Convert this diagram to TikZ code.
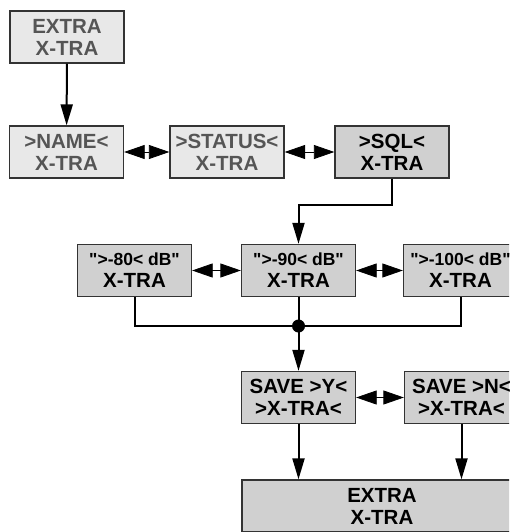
\documentclass[tikz,border=0pt]{standalone}
\usepackage{fontspec}
\setmainfont{Liberation Sans}
\usepackage{tikz}
\usetikzlibrary{arrows.meta}
\usetikzlibrary{positioning,calc}
\usepackage{xcolor}
\definecolor{lightbox}{HTML}{E8E8E8}
\definecolor{darkbox}{HTML}{D0D0D0}
\definecolor{greytext}{HTML}{555555}
\definecolor{boxline}{HTML}{333333}
\newcommand{\dq}{\textquotedbl}

\begin{document}
\begin{tikzpicture}[x=1pt,y=-1pt]
  % Define styles for menu boxes and connectors
  \tikzset{
    menubox/.style={
      draw=boxline,
      line width=1.3pt,
      minimum width=114pt,
      minimum height=52pt,
      inner sep=0pt,
      align=center,
      font=\bfseries\fontsize{20.5}{22}\selectfont
    },
    lightmenu/.style={menubox, fill=lightbox, text=greytext},
    darkmenu/.style={menubox, fill=darkbox, text=black},
    flow/.style={
      draw=black,
      line width=2pt,
      -{Triangle[length=21pt, width=12pt]}
    },
    wire/.style={
      draw=black,
      line width=2pt
    },
    toggle/.style={
      draw=black,
      line width=0.8pt,
      {Triangle[length=20.5pt, width=14pt]}-{Triangle[length=20.5pt, width=14pt]}
    }
  }
  \useasboundingbox (0,0) rectangle (509,532);
  \clip (0,0) rectangle (509,532);

  % Top level
  \node[lightmenu] (extra) at (67,37) {EXTRA\\X-TRA};

  % Sub menu row
  \node[lightmenu] (name) at (66.5,152) {>NAME<\\X-TRA};
  \node[lightmenu] (status) at (227,152) {>STATUS<\\X-TRA};
  \node[darkmenu] (sql) at (392,152) {>SQL<\\X-TRA};

  % Squelch levels
  \node[darkmenu] (db80) at (134.5,270.5) {{\fontsize{17.5}{22}\selectfont\dq>-80< dB\dq}\\X-TRA};
  \node[darkmenu] (db90) at (298.5,270.5) {{\fontsize{17.5}{22}\selectfont\dq>-90< dB\dq}\\X-TRA};
  \node[darkmenu] (db100) at (460.5,270.5) {{\fontsize{17.5}{22}\selectfont\dq>-100< dB\dq}\\X-TRA};

  % Save question
  \node[darkmenu] (savey) at (298.5,397.5) {SAVE >Y<\\>X-TRA<};
  \node[darkmenu] (saven) at (461.5,397.5) {SAVE >N<\\>X-TRA<};

  % Back to top
  \node[darkmenu, minimum width=280pt] (final) at (382,506) {EXTRA\\X-TRA};

  % Connectors
  \coordinate (bus) at (298.5,326);
  \draw[flow] (extra) -- (name);
  \draw[toggle] (name) -- (status);
  \draw[toggle] (status) -- (sql);
  \draw[flow] (sql.south) -- ++(0,26) -| (db90.north);
  \draw[toggle] (db80) -- (db90);
  \draw[toggle] (db90) -- (db100);
  \draw[wire] (db80.south) |- (bus) -| (db100.south);
  \draw[wire] (db90.south) -- (bus);
  \fill (bus) circle (6.5);
  \draw[flow] (bus) -- (savey.north);
  \draw[toggle] (savey) -- (saven);
  \draw[flow] (savey.south) -- (savey.south |- final.north);
  \draw[flow] (saven.south) -- (saven.south |- final.north);
\end{tikzpicture}
\end{document}
